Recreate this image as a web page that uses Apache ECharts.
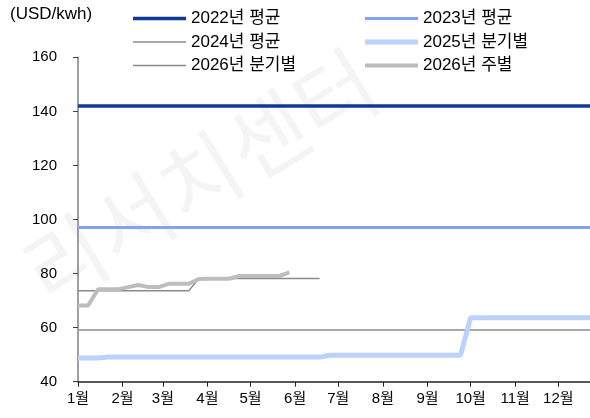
<!DOCTYPE html>
<html>
<head>
<meta charset="utf-8">
<script src="https://cdn.jsdelivr.net/npm/echarts@6/dist/echarts.min.js"></script>
<style>
html,body{margin:0;padding:0;background:#fff;}
#c{width:590px;height:418px;}
</style>
</head>
<body>
<div id="c"></div>
<script>
// ---- data ----
const monthLabels = ['1월','2월','3월','4월','5월','6월','7월','8월','9월','10월','11월','12월'];
const monthStartDays = [0,31,59,90,120,151,181,212,243,273,304,334];
const yTicks = [40,60,80,100,120,140,160];

const avg2022 = 142;
const avg2023 = 97;
const avg2024 = 59.1;

// 2025 quarterly (week index, value)
const q2025Weeks  = [0, 2, 3, 24, 25, 38, 39, 53];
const q2025Values = [48.8, 48.8, 49.1, 49.1, 49.8, 49.8, 63.7, 63.7];

// 2026 quarterly (week index, value)
const q2026Weeks  = [0, 11, 12, 24];
const q2026Values = [73.6, 73.6, 78.2, 78.2];

// 2026 weekly
const w2026Values = [68.2, 68.2, 74.2, 74.2, 74.2, 75.0, 75.8, 75.0, 75.0, 76.2, 76.2, 76.2,
                     78.0, 78.1, 78.1, 78.1, 79.1, 79.1, 79.1, 79.1, 79.1, 80.4];

const names = ['2022년 평균','2023년 평균','2024년 평균','2025년 분기별','2026년 분기별','2026년 주별'];

// ---- build ----
const FULL = [0, 371];
const flat = v => FULL.map(d => [d, v]);
const pair = (ws, vs) => ws.map((w, i) => [w * 7, vs[i]]);

const font = "'Liberation Sans', 'Noto Sans CJK KR', sans-serif";

const styles = [
  {color: '#0e3a95', width: 3.5},
  {color: '#7ea4f2', width: 3},
  {color: '#a8a8a8', width: 2},
  {color: '#bcd1fb', width: 5},
  {color: '#8a8a8a', width: 1.5},
  {color: '#bdbdbd', width: 4}
];

const chart = echarts.init(document.getElementById('c'), null, {renderer: 'canvas'});

const mk = (i, data) => ({
  name: names[i], type: 'line', data, symbol: 'none', showSymbol: false,
  lineStyle: {color: styles[i].color, width: styles[i].width},
  itemStyle: {color: styles[i].color}, animation: false, z: 3
});

// legend icon: a thin bar centred in a 53x10 box (tiny corner specks fix the box size)
const barIcon = t => {
  const a = 5 - t / 2, b = 5 + t / 2;
  return 'path://M0,0 L0.01,0 L0.01,0.01 Z M0,' + a + ' L53,' + a + ' L53,' + b + ' L0,' + b +
         ' Z M52.99,10 L53,10 L53,9.99 Z';
};
const legItem = i => ({name: names[i], icon: barIcon(styles[i].width),
  itemStyle: {color: styles[i].color, borderWidth: 0}});

const legendBase = {
  orient: 'vertical', top: 10, padding: 0, symbolKeepAspect: false,
  itemWidth: 53, itemHeight: 10, itemGap: 6.5,
  textStyle: {fontSize: 17, color: '#000', fontFamily: font}
};

chart.setOption({
  animation: false,
  textStyle: {fontFamily: font},
  graphic: [
    {type: 'text', x: 200, y: 177, rotation: 0.55, z: 0, silent: true,
     style: {text: '리서치센터', font: "86px 'Noto Sans CJK KR'", fill: '#f4f4f4',
             align: 'center', verticalAlign: 'middle'}},
    {type: 'text', left: 10, top: 6,
     style: {text: '(USD/kwh)', font: "17px 'Liberation Sans', 'Noto Sans CJK KR', sans-serif", fill: '#000'}}
  ],
  legend: [
    Object.assign({}, legendBase, {left: 133, data: [legItem(0), legItem(2), legItem(4)]}),
    Object.assign({}, legendBase, {left: 365, data: [legItem(1), legItem(3), legItem(5)]})
  ],
  grid: {left: 78, right: 0, top: 57.3, bottom: 36.3},
  xAxis: {
    type: 'value', min: 0, max: 356,
    splitLine: {show: false},
    axisLine: {show: true, lineStyle: {color: '#222', width: 1.5}},
    axisTick: {show: true, inside: false, length: 5, customValues: monthStartDays,
               lineStyle: {color: '#222'}},
    axisLabel: {customValues: monthStartDays, margin: 10, fontSize: 15, color: '#000',
                fontFamily: font,
                formatter: v => monthLabels[monthStartDays.indexOf(Math.round(v))] || ''}
  },
  yAxis: {
    type: 'value', min: yTicks[0], max: yTicks[yTicks.length - 1], interval: 20,
    splitLine: {show: false},
    axisLine: {show: true, lineStyle: {color: '#808080', width: 1.5}},
    axisTick: {show: true, inside: false, length: 5, lineStyle: {color: '#444'}},
    axisLabel: {margin: 21, fontSize: 15, color: '#000', fontFamily: font}
  },
  series: [
    mk(0, flat(avg2022)),
    mk(1, flat(avg2023)),
    mk(2, flat(avg2024)),
    mk(3, pair(q2025Weeks, q2025Values)),
    mk(4, pair(q2026Weeks, q2026Values)),
    mk(5, w2026Values.map((v, i) => [i * 7, v]))
  ]
});
</script>
</body>
</html>
